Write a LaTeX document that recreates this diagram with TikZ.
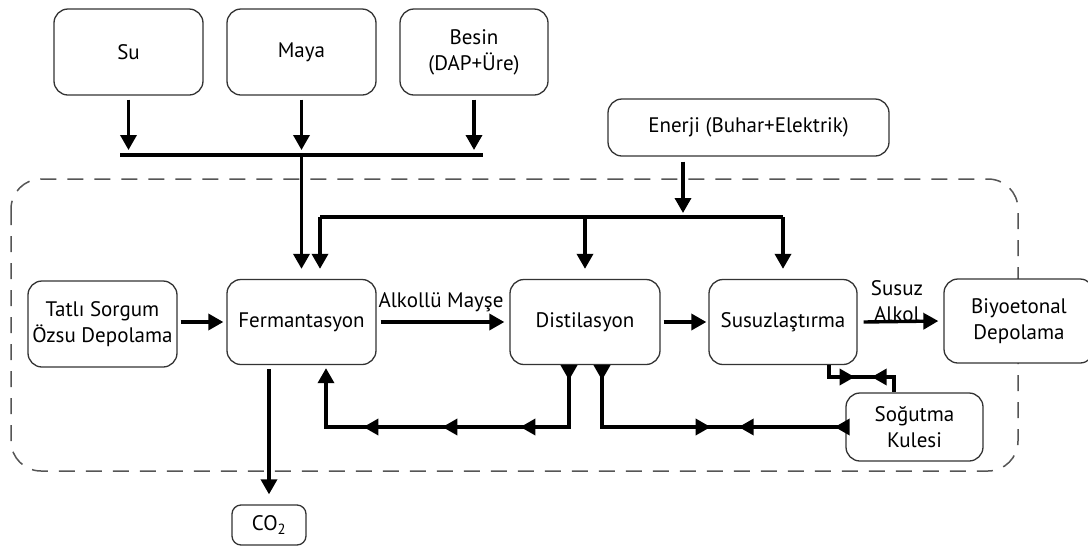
\documentclass[tikz,border=0pt]{standalone}
\usepackage{fontspec}
\setmainfont{PT Sans}
\usetikzlibrary{arrows.meta,decorations.markings,calc}
\definecolor{boxline}{HTML}{333333}
\definecolor{dashline}{HTML}{555555}
\begin{document}
\begin{tikzpicture}[x=1pt,y=-1pt,
  mytip/.tip={Triangle[length=15pt,width=16pt]},
  box/.style={draw=boxline, line width=1.3pt, rounded corners=14pt, fill=white,
    align=center, inner sep=0pt, font=\fontsize{21}{26}\selectfont},
  lbl/.style={align=center, inner sep=0pt, font=\fontsize{21}{26}\selectfont},
  pipe/.style={line width=3.4pt, black},
  flow/.style={pipe, -mytip},
  tipat/.style={postaction={decorate, decoration={markings,
    mark=at position #1 with {\arrow{mytip}}}}},
  rtipat/.style={postaction={decorate, decoration={markings,
    mark=at position #1 with {\arrowreversed{mytip}}}}},
  dashbox/.style={draw=dashline, line width=1.5pt, dash pattern=on 16pt off 11pt,
    rounded corners=30pt}
]
\useasboundingbox (0,0) rectangle (1088,547);

% plant boundary
\draw[dashbox] (11,179) rectangle (1018,471);

% input boxes
\node[box, minimum width=149pt, minimum height=86pt] (su) at (128.5,52) {Su};
\node[box, minimum width=149pt, minimum height=86pt] (maya) at (301.5,52) {Maya};
\node[box, minimum width=148pt, minimum height=86pt] (besin) at (474,52) {Besin\\(DAP+Üre)};
\node[box, minimum width=281pt, minimum height=57pt] (enerji) at (748.5,127.5) {Enerji (Buhar+Elektrik)};

% process line
\node[box, minimum width=149pt, minimum height=86pt] (tatli) at (102.5,324) {Tatlı Sorgum\\Özsu Depolama};
\node[box, minimum width=149pt, minimum height=85pt] (ferm) at (301.5,322) {Fermantasyon};
\node[box, minimum width=150pt, minimum height=85pt] (dist) at (585,322) {Distilasyon};
\node[box, minimum width=148pt, minimum height=85pt] (susuz) at (783,322) {Susuzlaştırma};
\node[box, minimum width=150pt, minimum height=84pt] (biyo) at (1019,321) {Biyoetonal\\Depolama};
\node[box, minimum width=137pt, minimum height=68pt] (sog) at (914.5,427) {Soğutma\\Kulesi};
\node[box, minimum width=74pt, minimum height=40pt, rounded corners=9pt] (co2) at (269,525) {CO\textsubscript{2}};

% collector bar for water, yeast and nutrients
\coordinate (bar) at (301.5,155);
\coordinate (barL) at (120,155);
\coordinate (barR) at (483,155);
\draw[pipe] (barL) -- (barR);
\draw[flow] ($(su.south)+(0,4)$) -- ($(su.south |- bar)+(0,-5)$);
\draw[flow] ($(maya.south)+(0,4)$) -- ($(maya.south |- bar)+(0,-5)$);
\draw[flow] ($(besin.south)+(0,4)$) -- ($(besin.south |- bar)+(0,-5)$);
\draw[flow] (bar) -- ($(ferm.north)+(0,-10)$);

% energy distribution
\coordinate (ebar) at (683,217);
\coordinate (eL) at (320,217);
\coordinate (eR) at (susuz.north |- ebar);
\draw[flow] ($(ebar |- enerji.south)+(0,5)$) -- ($(ebar)+(0,-4)$);
\draw[pipe] (eL) -- (eR);
\draw[flow] (eL) -- ($(eL |- ferm.north)+(0,-10)$);
\draw[flow] (dist.north |- ebar) -- ($(dist.north)+(0,-10)$);
\draw[flow] (eR) -- ($(susuz.north)+(0,-10)$);

% main product flow
\draw[flow] ($(tatli.east |- ferm.west)+(3,0)$) -- ($(ferm.west)+(-3,0)$);
\draw[flow] ($(ferm.east)+(4,0)$) -- ($(dist.west)+(-5,0)$);
\node[lbl, anchor=south] (mayse) at (441,312) {Alkollü Mayşe};
\draw[flow] ($(dist.east)+(3,0)$) -- ($(susuz.west)+(-2,0)$);
\draw[flow] ($(susuz.east)+(6,0)$) -- ($(biyo.west)+(-5,0)$);
\node[lbl] (alkol) at (897,301) {Susuz\\Alkol};
\draw[flow] ($(co2.north |- ferm.south)+(0,4)$) -- ($(co2.north)+(0,-10)$);

% stillage return to fermentation
\coordinate (r1) at (569,427);
\coordinate (r1b) at (326,427);
\draw[pipe, -mytip, tipat=15pt, tipat=110.5pt, tipat=188.5pt, tipat=267.5pt]
  (r1 |- dist.south) -- (r1) -- (r1b) -- ($(r1b |- ferm.south)+(0,3)$);

% cooling water loops
\coordinate (r2) at (602,427);
\draw[pipe, tipat=15pt, tipat=170.5pt, rtipat=198.5pt, rtipat=294.5pt]
  (r2 |- dist.south) -- (r2) -- (sog.west |- r2);
\coordinate (c1) at (829,377);
\coordinate (c2) at (894,377);
\draw[pipe, tipat=37.5pt, rtipat=54.5pt]
  (c1 |- susuz.south) -- (c1) -- (c2) -- (c2 |- sog.north);
\end{tikzpicture}
\end{document}
